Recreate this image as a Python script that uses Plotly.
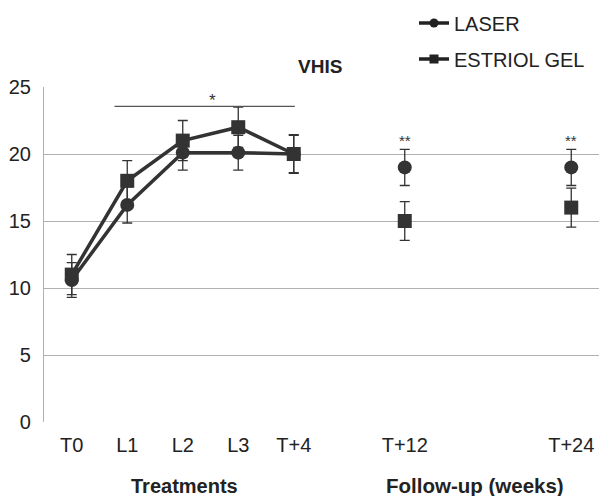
import plotly.graph_objects as go

categories = ["T0", "L1", "L2", "L3", "T+4", "T+12", "T+24"]
x_pos = [0, 1, 2, 3, 4, 6, 9]
laser = [10.6, 16.2, 20.1, 20.1, 20.0, 19.0, 19.0]
laser_err = [1.3, 1.35, 1.3, 1.3, 1.4, 1.35, 1.35]
estriol = [11.0, 18.0, 21.0, 22.0, 20.0, 15.0, 16.0]
estriol_err = [1.5, 1.5, 1.5, 1.5, 1.45, 1.45, 1.45]
y_ticks = [0, 5, 10, 15, 20, 25]

dark = "#333333"
txt = "#222222"
font = "Liberation Sans, Arial, sans-serif"

fig = go.Figure()

def add_series(name, y, err, symbol, group):
    fig.add_trace(go.Scatter(
        x=x_pos[:5], y=y[:5], mode="lines+markers", name=name,
        legendgroup=group, showlegend=False,
        line=dict(color=dark, width=3.5),
        marker=dict(symbol=symbol, size=14, color=dark),
        error_y=dict(type="data", array=err[:5], color=dark, thickness=1.3, width=5),
    ))
    fig.add_trace(go.Scatter(
        x=x_pos[5:], y=y[5:], mode="markers", name=name,
        legendgroup=group, showlegend=False,
        marker=dict(symbol=symbol, size=14, color=dark),
        error_y=dict(type="data", array=err[5:], color=dark, thickness=1.3, width=5),
    ))
    # legend entry (smaller symbol as in the reference)
    fig.add_trace(go.Scatter(
        x=[None], y=[None], mode="lines+markers", name=name,
        legendgroup=group, showlegend=True,
        line=dict(color="#222222", width=3.5),
        marker=dict(symbol=symbol, size=9, color="#222222"),
    ))

add_series("LASER", laser, laser_err, "circle", "a")
add_series("ESTRIOL GEL", estriol, estriol_err, "square", "b")

fig.add_shape(type="line", x0=0.77, x1=4.02, y0=23.55, y1=23.55,
              line=dict(color="#555555", width=1.2))
fig.add_annotation(x=2.54, y=23.55, text="*", showarrow=False, yanchor="bottom",
                   font=dict(size=17, color=dark, family=font), yshift=-6)
for xp in [6, 9]:
    fig.add_annotation(x=xp, y=20.5, text="**", showarrow=False, yanchor="bottom",
                       font=dict(size=15, color=dark, family=font), yshift=-4)

fig.add_annotation(x=(320 - 72) / 55.5, xref="x", y=1.0, yref="paper", text="<b>VHIS</b>",
                   showarrow=False, yanchor="middle", yshift=21,
                   font=dict(size=19, color=txt, family=font))

fig.add_annotation(x=2.03, xref="x", y=-0.19, yref="paper", text="<b>Treatments</b>",
                   showarrow=False, yanchor="middle",
                   font=dict(size=20, color=txt, family=font))
fig.add_annotation(x=7.26, xref="x", y=-0.19, yref="paper", text="<b>Follow-up (weeks)</b>",
                   showarrow=False, yanchor="middle",
                   font=dict(size=20.5, color=txt, family=font))

fig.update_xaxes(range=[-0.5, 9.5], tickvals=x_pos, ticktext=categories,
                 showgrid=False, zeroline=False, showline=False, ticks="",
                 automargin=False, ticklabelstandoff=9,
                 tickfont=dict(size=20, color=txt, family=font))
fig.update_yaxes(range=[0, 25], tickvals=y_ticks, showgrid=True, gridcolor="#b0b0b0",
                 gridwidth=1.2, zeroline=False, showline=True, linecolor="#b0b0b0",
                 linewidth=1.2, ticks="", ticklabelstandoff=8, automargin=False,
                 tickfont=dict(size=20, color=txt, family=font))

fig.update_layout(
    width=599, height=496,
    margin=dict(l=44, r=0, t=87, b=74, autoexpand=False),
    plot_bgcolor="white", paper_bgcolor="white",
    showlegend=True,
    legend=dict(x=(414 - 44) / 555, y=0.993, yref="container", xanchor="left", yanchor="top",
                font=dict(size=20, color=txt, family=font), itemsizing="trace",
                tracegroupgap=7, bgcolor="rgba(0,0,0,0)"),
)

fig.write_html("out.html", config={"displayModeBar": False},
               post_script="document.body.style.margin='0';document.body.style.overflow='hidden';")
